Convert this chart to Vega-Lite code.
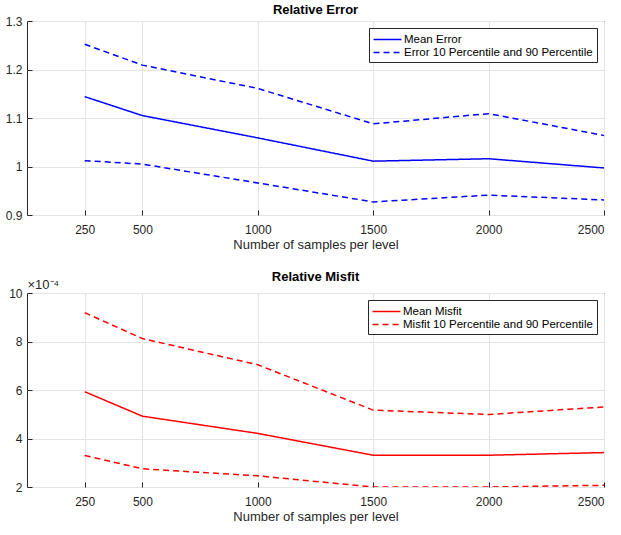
{
  "$schema": "https://vega.github.io/schema/vega-lite/v6.json",
  "padding": {"left": 4, "top": 3, "right": 5, "bottom": 5},
  "background": "white",
  "datasets": {
    "err": [
      {"n": 250, "stat": "mean", "series": "Mean Error", "value": 1.144},
      {"n": 500, "stat": "mean", "series": "Mean Error", "value": 1.105},
      {"n": 1000, "stat": "mean", "series": "Mean Error", "value": 1.059},
      {"n": 1500, "stat": "mean", "series": "Mean Error", "value": 1.011},
      {"n": 2000, "stat": "mean", "series": "Mean Error", "value": 1.016},
      {"n": 2500, "stat": "mean", "series": "Mean Error", "value": 0.997},
      {"n": 250, "stat": "p90", "series": "Error 10 Percentile and 90 Percentile", "value": 1.252},
      {"n": 500, "stat": "p90", "series": "Error 10 Percentile and 90 Percentile", "value": 1.209},
      {"n": 1000, "stat": "p90", "series": "Error 10 Percentile and 90 Percentile", "value": 1.161},
      {"n": 1500, "stat": "p90", "series": "Error 10 Percentile and 90 Percentile", "value": 1.088},
      {"n": 2000, "stat": "p90", "series": "Error 10 Percentile and 90 Percentile", "value": 1.109},
      {"n": 2500, "stat": "p90", "series": "Error 10 Percentile and 90 Percentile", "value": 1.064},
      {"n": 250, "stat": "p10", "series": "Error 10 Percentile and 90 Percentile", "value": 1.012},
      {"n": 500, "stat": "p10", "series": "Error 10 Percentile and 90 Percentile", "value": 1.005},
      {"n": 1000, "stat": "p10", "series": "Error 10 Percentile and 90 Percentile", "value": 0.966},
      {"n": 1500, "stat": "p10", "series": "Error 10 Percentile and 90 Percentile", "value": 0.927},
      {"n": 2000, "stat": "p10", "series": "Error 10 Percentile and 90 Percentile", "value": 0.941},
      {"n": 2500, "stat": "p10", "series": "Error 10 Percentile and 90 Percentile", "value": 0.931}
    ],
    "mis": [
      {"n": 250, "stat": "mean", "series": "Mean Misfit", "value": 0.000593},
      {"n": 500, "stat": "mean", "series": "Mean Misfit", "value": 0.000492},
      {"n": 1000, "stat": "mean", "series": "Mean Misfit", "value": 0.000421},
      {"n": 1500, "stat": "mean", "series": "Mean Misfit", "value": 0.000331},
      {"n": 2000, "stat": "mean", "series": "Mean Misfit", "value": 0.000331},
      {"n": 2500, "stat": "mean", "series": "Mean Misfit", "value": 0.000342},
      {"n": 250, "stat": "p90", "series": "Misfit 10 Percentile and 90 Percentile", "value": 0.000919},
      {"n": 500, "stat": "p90", "series": "Misfit 10 Percentile and 90 Percentile", "value": 0.000812},
      {"n": 1000, "stat": "p90", "series": "Misfit 10 Percentile and 90 Percentile", "value": 0.000704},
      {"n": 1500, "stat": "p90", "series": "Misfit 10 Percentile and 90 Percentile", "value": 0.000517},
      {"n": 2000, "stat": "p90", "series": "Misfit 10 Percentile and 90 Percentile", "value": 0.000499},
      {"n": 2500, "stat": "p90", "series": "Misfit 10 Percentile and 90 Percentile", "value": 0.00053},
      {"n": 250, "stat": "p10", "series": "Misfit 10 Percentile and 90 Percentile", "value": 0.00033},
      {"n": 500, "stat": "p10", "series": "Misfit 10 Percentile and 90 Percentile", "value": 0.000275},
      {"n": 1000, "stat": "p10", "series": "Misfit 10 Percentile and 90 Percentile", "value": 0.000246},
      {"n": 1500, "stat": "p10", "series": "Misfit 10 Percentile and 90 Percentile", "value": 0.0002},
      {"n": 2000, "stat": "p10", "series": "Misfit 10 Percentile and 90 Percentile", "value": 0.0002},
      {"n": 2500, "stat": "p10", "series": "Misfit 10 Percentile and 90 Percentile", "value": 0.000207}
    ]
  },
  "config": {
    "font": "Liberation Sans",
    "view": {"stroke": "#262626", "strokeWidth": 1},
    "axis": {
      "labelFont": "Liberation Sans", "labelFontSize": 12, "labelColor": "#262626",
      "titleFont": "Liberation Sans", "titleFontSize": 13, "titleFontWeight": "normal", "titleColor": "#262626",
      "domain": false, "grid": true, "gridColor": "#e4e4e4", "tickColor": "#262626", "tickSize": -5
    },
    "title": {"font": "Liberation Sans", "fontSize": 13, "fontWeight": "bold", "color": "#000000", "anchor": "middle", "offset": -2},
    "legend": {
      "orient": "top-right", "offset": 7, "strokeColor": "#262626", "fillColor": "white", "padding": 4,
      "labelFont": "Liberation Sans", "labelFontSize": 11.5, "labelColor": "#000000", "labelOffset": 9, "labelLimit": 0,
      "symbolType": "M-2.15,0H2.15", "symbolStrokeWidth": 1.5, "symbolSize": 169, "symbolOffset": 7, "rowPadding": 0, "title": null
    }
  },
  "spacing": 18,
  "vconcat": [
    {
      "width": 577, "height": 194,
      "title": "Relative Error",
      "data": {"name": "err"},
      "mark": {"type": "line", "color": "#0000ff", "strokeWidth": 1.5, "clip": true},
      "encoding": {
        "x": {"field": "n", "type": "quantitative", "title": "Number of samples per level",
              "scale": {"domain": [0, 2500], "nice": false},
              "axis": {"values": [250, 500, 1000, 1500, 2000, 2500], "format": "d", "labelPadding": 14, "titlePadding": 3}},
        "y": {"field": "value", "type": "quantitative", "title": null,
              "scale": {"domain": [0.9, 1.3], "nice": false, "zero": false},
              "axis": {"values": [0.9, 1.0, 1.1, 1.2, 1.3], "labelExpr": "format(datum.value, '~g')", "labelPadding": 10}},
        "strokeDash": {"field": "series", "type": "nominal",
              "scale": {"domain": ["Mean Error", "Error 10 Percentile and 90 Percentile"], "range": [[1, 0], [6, 4]]},
              "legend": {"symbolStrokeColor": "#0000ff"}},
        "detail": {"field": "stat"}
      }
    },
    {
      "width": 577, "height": 194,
      "title": {"text": "Relative Misfit", "offset": -6},
      "data": {"name": "mis"},
      "mark": {"type": "line", "color": "#ff0000", "strokeWidth": 1.5, "clip": true},
      "encoding": {
        "x": {"field": "n", "type": "quantitative", "title": "Number of samples per level",
              "scale": {"domain": [0, 2500], "nice": false},
              "axis": {"values": [250, 500, 1000, 1500, 2000, 2500], "format": "d", "labelPadding": 14, "titlePadding": 3}},
        "y": {"field": "value", "type": "quantitative",
              "title": "×10⁻⁴",
              "scale": {"domain": [0.0002, 0.001], "nice": false, "zero": false},
              "axis": {"values": [0.0002, 0.0004, 0.0006, 0.0008, 0.001], "labelExpr": "format(round(datum.value * 10000), 'd')", "labelPadding": 10,
                       "titleAngle": 0, "titleAlign": "left", "titleBaseline": "bottom", "titleX": 0, "titleY": -2, "titleFontSize": 13}},
        "strokeDash": {"field": "series", "type": "nominal",
              "scale": {"domain": ["Mean Misfit", "Misfit 10 Percentile and 90 Percentile"], "range": [[1, 0], [6, 4]]},
              "legend": {"symbolStrokeColor": "#ff0000"}},
        "detail": {"field": "stat"}
      }
    }
  ],
  "resolve": {"scale": {"strokeDash": "independent"}, "legend": {"strokeDash": "independent"}}
}
